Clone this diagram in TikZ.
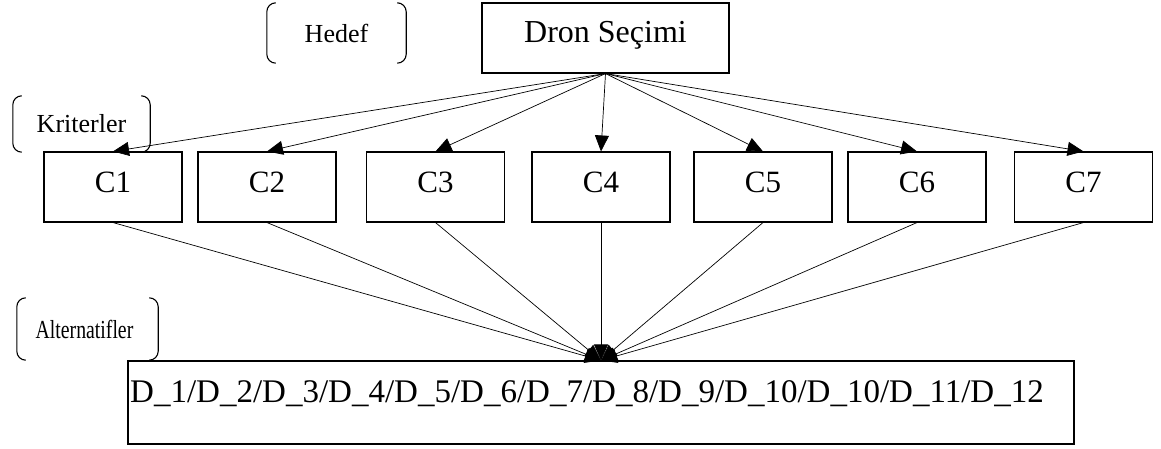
\documentclass[tikz,border=0pt]{standalone}
\usepackage{fontspec}
\setmainfont{Liberation Serif}
\usetikzlibrary{arrows.meta}
\tikzset{
  box/.style={draw, line width=1.1pt, rectangle, inner sep=0pt},
  cbox/.style={box, minimum width=138pt, minimum height=70pt, text height=41pt, text depth=29pt, font=\fontsize{31}{36}\selectfont},
  lbl/.style={rectangle, inner sep=0pt, font=\fontsize{26}{30}\selectfont},
  brk/.style={line width=1.1pt, rounded corners=9pt},
  arr/.style={line width=0.7pt, -{Triangle[length=16pt,width=14pt]}},
}
\newcommand\bracketsof[1]{%
  \draw[brk] ([xshift=9pt]#1.north west) -- (#1.north west) -- (#1.south west) -- ([xshift=9pt]#1.south west);
  \draw[brk] ([xshift=-9pt]#1.north east) -- (#1.north east) -- (#1.south east) -- ([xshift=-9pt]#1.south east);}
\begin{document}
\begin{tikzpicture}[x=1pt,y=-1pt]
\useasboundingbox (0,0) rectangle (1161,449);
% goal
\node[box, minimum width=247pt, minimum height=70pt, text height=40pt, text depth=30pt, font=\fontsize{32}{36}\selectfont] (dron) at (605.5,38) {Dron Seçimi};
% labels
\node[lbl, minimum width=139pt, minimum height=60pt] (hedef) at (336.5,33) {Hedef};
\node[lbl, minimum width=137pt, minimum height=56pt] (krit) at (81.5,124) {Kriterler};
\node[lbl, minimum width=141pt, minimum height=62pt] (altl) at (87.5,329) {\scalebox{0.76}[1]{Alternatifler}\kern6pt};
\bracketsof{hedef}
\bracketsof{krit}
\bracketsof{altl}
% criteria
\node[cbox] (c1) at (113,187) {C1};
\node[cbox] (c2) at (267,187) {C2};
\node[cbox] (c3) at (435.5,187) {C3};
\node[cbox] (c4) at (601,187) {C4};
\node[cbox] (c5) at (763,187) {C5};
\node[cbox] (c6) at (917,187) {C6};
\node[cbox] (c7) at (1083.5,187) {C7};
% alternatives
\node[box, minimum width=946pt, minimum height=83pt, text height=41pt, text depth=42pt, font=\fontsize{33}{38}\selectfont] (alt) at (601,402.5) {D\_1/D\_2/D\_3/D\_4/D\_5/D\_6/D\_7/D\_8/D\_9/D\_10/D\_10/D\_11/D\_12\kern28pt};
% connectors
\foreach \c in {c1,c2,c3,c4,c5,c6,c7}{
  \draw[arr] (dron.south) -- (\c.north);
  \draw[arr] (\c.south) -- (alt.north);
}
\end{tikzpicture}
\end{document}
